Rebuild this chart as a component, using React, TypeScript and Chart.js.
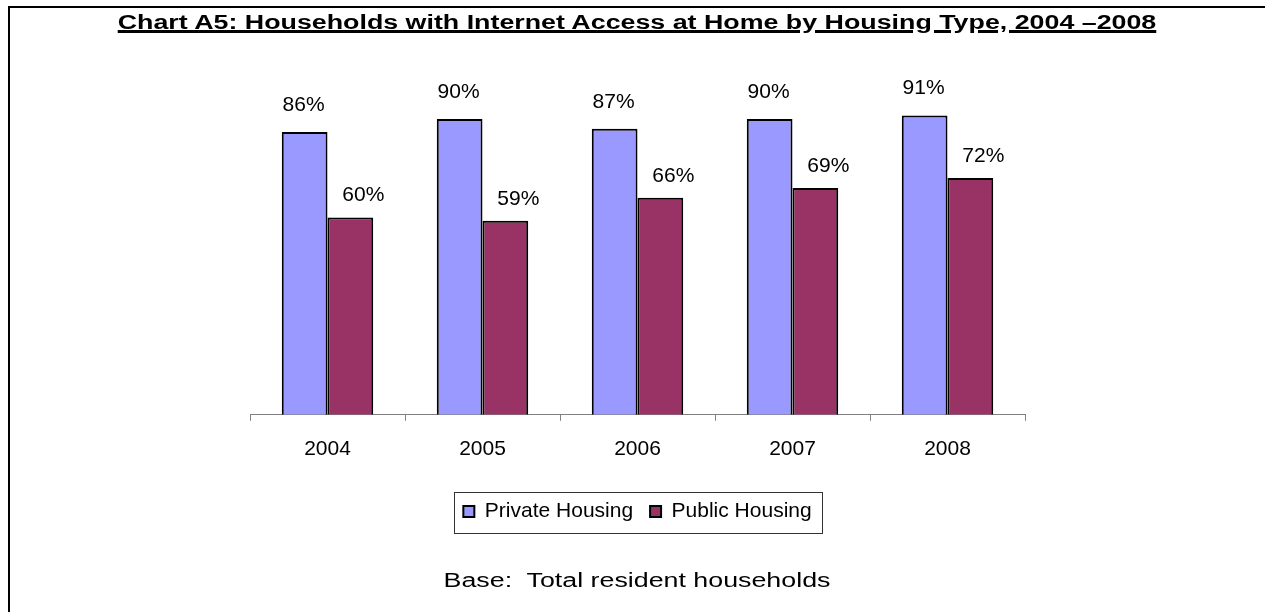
import React, { useEffect, useRef } from "react";
import { Chart, registerables } from "chart.js";

Chart.register(...registerables);

const categories = ["2004", "2005", "2006", "2007", "2008"];
const privateHousing = [86, 90, 87, 90, 91];
const publicHousing = [60, 59, 66, 69, 72];
const seriesNames = ["Private Housing", "Public Housing"];
const titleText = "Chart A5: Households with Internet Access at Home by Housing Type, 2004 \u20132008";
const footText = "Base:  Total resident households";

const FONT = "'Liberation Sans', Arial, Helvetica, sans-serif";

const labelOffsets = [
  { dx: -1, dy: 27 },
  { dx: 13, dy: 22 },
];

const valueLabelPlugin = {
  id: "valueLabels",
  afterDatasetsDraw(chart: any) {
    const ctx = chart.ctx;
    ctx.save();
    ctx.font = `21px ${FONT}`;
    ctx.fillStyle = "#000";
    ctx.textAlign = "center";
    ctx.textBaseline = "middle";
    chart.data.datasets.forEach((ds: any, di: number) => {
      const meta = chart.getDatasetMeta(di);
      const off = labelOffsets[di];
      meta.data.forEach((el: any, i: number) => {
        ctx.fillText(`${ds.data[i]}%`, el.x + off.dx, el.y - off.dy);
      });
    });
    ctx.restore();
  },
};

const legendBorderPlugin = {
  id: "legendBorder",
  afterDraw(chart: any) {
    const lg = chart.legend;
    if (!lg || !lg.legendHitBoxes || !lg.legendHitBoxes.length) return;
    const boxes = lg.legendHitBoxes;
    let l = Infinity, r = -Infinity, t = Infinity, b = -Infinity;
    boxes.forEach((h: any) => {
      l = Math.min(l, h.left);
      r = Math.max(r, h.left + h.width);
      t = Math.min(t, h.top);
      b = Math.max(b, h.top + h.height);
    });
    const ctx = chart.ctx;
    ctx.save();
    ctx.strokeStyle = "#333";
    ctx.lineWidth = 1;
    const x0 = Math.round(l - 9) + 0.5;
    const x1 = Math.round(r + 10) + 0.5;
    const y0 = Math.round(t - 9) + 0.5;
    const y1 = Math.round(b + 11) + 0.5;
    ctx.strokeRect(x0, y0, x1 - x0, y1 - y0);
    ctx.restore();
  },
};

export default function App() {
  const ref = useRef<HTMLCanvasElement | null>(null);

  useEffect(() => {
    if (!ref.current) return;
    const chart = new Chart(ref.current, {
      type: "bar",
      data: {
        labels: categories,
        datasets: [
          {
            label: seriesNames[0],
            data: privateHousing,
            backgroundColor: "#9999FF",
            borderColor: "#000",
            borderWidth: 2,
            categoryPercentage: 0.59,
            barPercentage: 1,
          },
          {
            label: seriesNames[1],
            data: publicHousing,
            backgroundColor: "#993366",
            borderColor: "#000",
            borderWidth: 2,
            categoryPercentage: 0.59,
            barPercentage: 1,
          },
        ],
      },
      options: {
        responsive: false,
        animation: false,
        events: [],
        layout: { padding: { left: 250, right: 240, top: 86, bottom: 80 } },
        scales: {
          x: {
            grid: {
              display: true,
              drawOnChartArea: false,
              tickLength: 6,
              color: "#808080",
              offset: true,
            },
            border: { display: true, color: "#808080", width: 1 },
            ticks: {
              color: "#000",
              font: { family: FONT, size: 21 },
              padding: 16,
            },
            afterFit(scale: any) {
              scale.height += 6;
            },
          },
          y: {
            display: false,
            min: 0,
            max: 100,
          },
        },
        plugins: {
          legend: {
            position: "bottom",
            labels: {
              boxWidth: 11,
              boxHeight: 11,
              color: "#000",
              font: { family: FONT, size: 21 },
              padding: 17,
            },
          },
          title: { display: false },
          tooltip: { enabled: false },
        },
      },
      plugins: [valueLabelPlugin, legendBorderPlugin],
    });
    return () => chart.destroy();
  }, []);

  const stretch = "translateX(-50%) scaleX(1.34)";

  return (
    <div>
      <canvas
        ref={ref}
        width={1265}
        height={612}
        style={{ position: "absolute", left: 0, top: 0, width: 1265, height: 612 }}
      />
      <div
        style={{
          position: "absolute",
          left: 8,
          top: 6,
          width: 1257,
          height: 606,
          boxSizing: "border-box",
          borderTop: "2px solid #000",
          borderLeft: "2px solid #000",
          pointerEvents: "none",
        }}
      />
      <div
        style={{
          position: "absolute",
          left: 637,
          top: 12,
          transform: stretch,
          transformOrigin: "50% 0",
          whiteSpace: "nowrap",
          fontFamily: FONT,
          fontWeight: "bold",
          fontSize: 20,
          lineHeight: "20px",
          textDecoration: "underline",
          textDecorationThickness: "3px",
          textUnderlineOffset: "1px",
          color: "#000",
        }}
      >
        {titleText}
      </div>
      <div
        style={{
          position: "absolute",
          left: 637,
          top: 570,
          transform: stretch,
          transformOrigin: "50% 0",
          whiteSpace: "pre",
          fontFamily: FONT,
          fontSize: 20,
          lineHeight: "20px",
          color: "#000",
        }}
      >
        {footText}
      </div>
    </div>
  );
}
